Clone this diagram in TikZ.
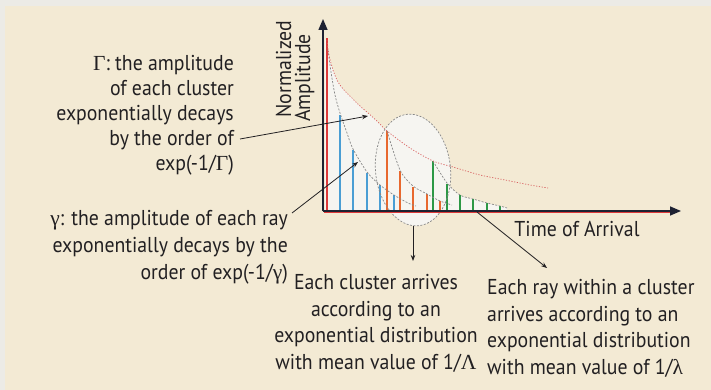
\documentclass[tikz,border=0pt]{standalone}
\usepackage{fontspec}
\setmainfont{PT Sans}[FakeStretch=0.92]
\newfontfamily\grk{Liberation Serif}
\usetikzlibrary{arrows.meta,shapes.geometric}
\definecolor{paper}{RGB}{243,234,212}
\definecolor{strip}{RGB}{236,235,230}
\definecolor{pale}{RGB}{246,245,241}
\definecolor{rayred}{RGB}{222,58,58}
\definecolor{rayblue}{RGB}{74,158,212}
\definecolor{rayorange}{RGB}{232,104,46}
\definecolor{raygreen}{RGB}{44,152,70}
\definecolor{axiscol}{RGB}{30,34,50}
\definecolor{envgrey}{RGB}{135,135,135}
\definecolor{envred}{RGB}{216,96,96}
\definecolor{ink}{RGB}{34,32,34}
\tikzset{
  lbl/.style={inner sep=0pt, text=ink, font=\fontsize{21.5}{26}\selectfont},
  raybar/.style={line width=1.3pt},
  envdash/.style={draw=envgrey, line width=0.7pt, dash pattern=on 2pt off 1.5pt},
  envdot/.style={draw=envred, line width=0.7pt, dash pattern=on 1.2pt off 1.6pt},
  axisline/.style={draw=axiscol, line width=1.5pt},
  callout/.style={draw=ink, line width=0.8pt, -{Stealth[length=6pt,width=4.5pt]}},
}
\begin{document}
\begin{tikzpicture}[x=1pt,y=-1pt]
\useasboundingbox (0,0) rectangle (711,390);
% background
\fill[paper] (0,0) rectangle (711,390);
\fill[strip] (0,0) rectangle (711,6);
\fill[strip] (0,0) rectangle (5,390);
% pale area under the envelope
\fill[pale] (325,211) -- (325,40)
  -- plot[smooth] coordinates {(327,40) (329,55) (333,70) (338,82) (344,90) (351,97) (360,106) (368,113) (378,122) (387,131) (410,148) (433,161)}
  -- plot[smooth] coordinates {(433,161) (447,183) (460,195) (473,199) (487,203) (500,206) (507,208)}
  -- (507,211) -- cycle;
% cluster ellipse
\node[ellipse, draw=none, fill=pale, minimum width=75pt, minimum height=112pt, inner sep=0pt, rotate=6] (ell) at (413,170) {};
% rays
\draw[raybar, rayred] (327,211) -- (327,38);
\foreach \x/\y in {340/115,353/150,367/173,380/185,394/195}
  \draw[raybar, rayblue] (\x,211) -- (\x,\y);
\foreach \x/\y in {387/131,400/171,413/187,427/194,440/201}
  \draw[raybar, rayorange] (\x,211) -- (\x,\y);
\foreach \x/\y in {433/161,447/184,460/195,473/199,487/203,500/206}
  \draw[raybar, raygreen] (\x,211) -- (\x,\y);
% envelopes
\draw[envdash] plot[smooth] coordinates {(328,50) (331,72) (335,95) (340,113) (347,133) (353,149) (367,172) (380,185) (394,195) (408,203) (416,206)};
\draw[envdash] plot[smooth] coordinates {(387,131) (400,170) (413,186) (427,194) (440,201) (452,205)};
\draw[envdash] plot[smooth] coordinates {(433,161) (447,183) (460,195) (473,199) (487,203) (500,206) (507,208)};
\draw[envdot] plot[smooth] coordinates {(327,40) (329,55) (333,70) (338,82) (344,90) (351,97) (360,106) (368,113) (378,122) (387,131) (410,148) (433,161) (453,167) (480,175) (505,180) (530,185) (548,188)};
\node[ellipse, envdash, fill=none, minimum width=75pt, minimum height=112pt, inner sep=0pt, rotate=6] (ellB) at (413,170) {};
% axes
\draw[rayred, line width=0.5pt] (324,212.4) -- (672,212.4);
\coordinate (orig) at (323,211);
\coordinate (ytip) at (323,19);
\coordinate (xtip) at (681,211);
\draw[axisline, -{Triangle[length=11pt,width=9pt]}] (orig) -- (ytip);
\draw[axisline, -{Triangle[length=11pt,width=9pt]}] (orig) -- (xtip);
% labels
\node[lbl, rotate=90, anchor=base] (ylabA) at (291,69) {Normalized};
\node[lbl, rotate=90, anchor=base] (ylabB) at (310,78) {Amplitude};
\node[lbl, anchor=base] (toa) at (577,236) {Time of Arrival};
\node[lbl, anchor=north east, align=right, font=\fontsize{21.5}{25}\selectfont] (capG) at (234,55)
  {{\grk Γ}: the amplitude\\of each cluster\\exponentially decays\\by the order of\\exp(-1/{\grk Γ})};
\node[lbl, anchor=north east, align=right, font=\fontsize{21.5}{27}\selectfont] (smallg) at (288,210)
  {{\grk γ}: the amplitude of each ray\\exponentially decays by the\\order of exp(-1/{\grk γ})};
\node[lbl, anchor=north, align=center, font=\fontsize{21.5}{26.7}\selectfont] (clus) at (376,274)
  {Each cluster arrives\\according to an\\exponential distribution\\with mean value of 1/{\grk Λ}};
\node[lbl, anchor=north west, align=left, font=\fontsize{21.5}{26.7}\selectfont] (rayt) at (487,279)
  {Each ray within a cluster\\arrives according to an\\exponential distribution\\with mean value of 1/{\grk λ}};
% callouts
\coordinate (capS) at (240,139);
\coordinate (capE) at (368,116);
\coordinate (gS) at (292,213);
\coordinate (gE) at (358,162);
\coordinate (cS) at (413,226);
\coordinate (cE) at (413,261);
\coordinate (rS) at (477,212);
\coordinate (rE) at (547,268);
\draw[callout] (capS) -- (capE);
\draw[callout] (gS) -- (gE);
\draw[callout] (cS) -- (cE);
\draw[callout] (rS) -- (rE);
\end{tikzpicture}
\end{document}
